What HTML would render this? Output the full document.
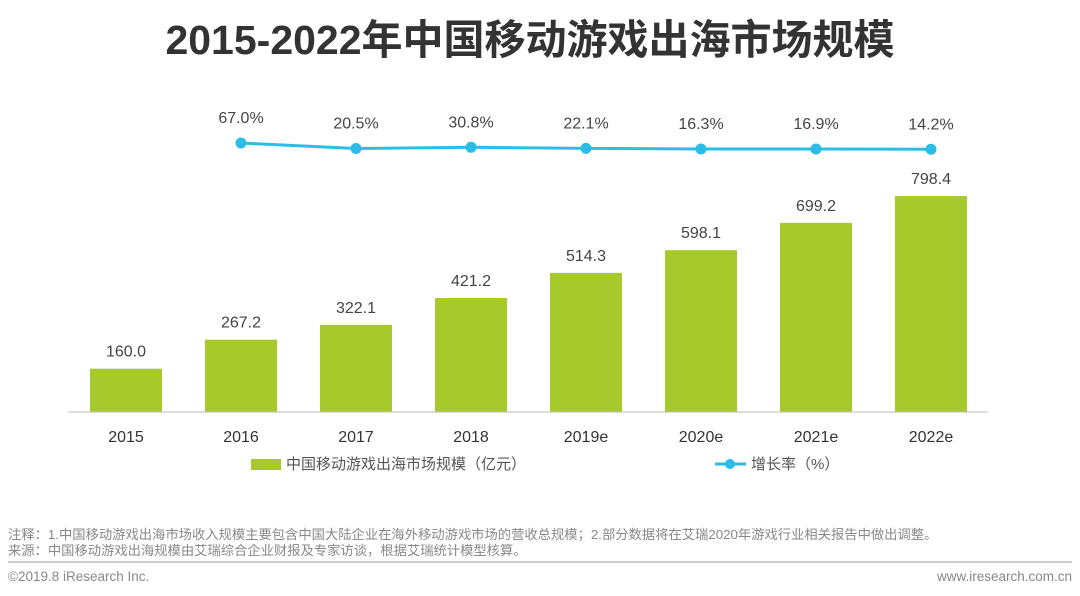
<!DOCTYPE html>
<html><head><meta charset="utf-8"><style>
body{margin:0;background:#fff;width:1080px;height:591px;overflow:hidden;font-family:"Liberation Sans","Noto Sans CJK SC",sans-serif}
</style></head><body>
<svg width="1080" height="591" xmlns="http://www.w3.org/2000/svg">
<text x="530" y="54" text-anchor="middle" font-size="41" font-weight="bold" fill="#333" font-family="Liberation Sans, Noto Sans CJK SC, sans-serif">2015-2022年中国移动游戏出海市场规模</text>
<g id="bars"></g><g id="line"></g>
<line x1="68" y1="412" x2="988" y2="412" stroke="#bbb" stroke-width="1"/>
<g id="xlabels"></g>
<g>
<rect x="251" y="459" width="30" height="11" fill="#a8c92b"/>
<text x="286" y="469" font-size="15" fill="#555">中国移动游戏出海市场规模（亿元）</text>
<line x1="715" y1="464" x2="746" y2="464" stroke="#2bbde6" stroke-width="3"/>
<circle cx="730" cy="464" r="5" fill="#2bbde6"/>
<text x="751" y="469" font-size="15" fill="#555">增长率（%）</text>
</g>
<text x="8" y="539" font-size="13.3" fill="#888">注释：1.中国移动游戏出海市场收入规模主要包含中国大陆企业在海外移动游戏市场的营收总规模；2.部分数据将在艾瑞2020年游戏行业相关报告中做出调整。</text>
<text x="8" y="555" font-size="13.3" fill="#888">来源：中国移动游戏出海规模由艾瑞综合企业财报及专家访谈，根据艾瑞统计模型核算。</text>
<line x1="8" y1="562" x2="1072" y2="562" stroke="#999" stroke-width="1"/>
<text x="8" y="581" font-size="13.5" fill="#888">©2019.8 iResearch Inc.</text>
<text x="1072" y="581" text-anchor="end" font-size="13.5" fill="#888">www.iresearch.com.cn</text>
</svg>
<script>
const categories=["2015","2016","2017","2018","2019e","2020e","2021e","2022e"];
const marketSize=[160.0,267.2,322.1,421.2,514.3,598.1,699.2,798.4];
const growthRate=[null,67.0,20.5,30.8,22.1,16.3,16.9,14.2];
const NS="http://www.w3.org/2000/svg";
const xPos=i=>126+i*115;
const yBar=v=>412-v*0.2706;
const yLine=v=>151-v*0.12;
function mk(tag,attrs,parent,txt){const e=document.createElementNS(NS,tag);for(const k in attrs)e.setAttribute(k,attrs[k]);if(txt!==undefined)e.textContent=txt;parent.appendChild(e);return e;}
const bars=document.getElementById('bars'),line=document.getElementById('line'),xl=document.getElementById('xlabels');
marketSize.forEach((v,i)=>{
 const r=mk('rect',{x:xPos(i)-36,y:yBar(v),width:72,height:412-yBar(v),fill:'#a8c92b'},bars);
 
 
 const t=mk('text',{x:xPos(i),y:yBar(v)-12,'text-anchor':'middle','font-size':16,fill:'#444'},bars,v.toFixed(1));
 
 
 const l=mk('text',{x:xPos(i),y:442,'text-anchor':'middle','font-size':16,fill:'#333'},xl,categories[i]);
 
 
});
const pts=[];growthRate.forEach((v,i)=>{if(v!==null)pts.push([xPos(i),yLine(v),v,i]);});
const p=mk('polyline',{points:pts.map(q=>q[0]+','+q[1]).join(' '),fill:'none',stroke:'#2bbde6','stroke-width':3},line);


pts.forEach(q=>{
 const c=mk('circle',{cx:q[0],cy:q[1],r:5.5,fill:'#2bbde6'},line);
 
 
 const t=mk('text',{x:q[0],y:q[1]-20,'text-anchor':'middle','font-size':16,fill:'#444'},line,q[2].toFixed(1)+'%');
 
 
});
</script>
</body></html>
